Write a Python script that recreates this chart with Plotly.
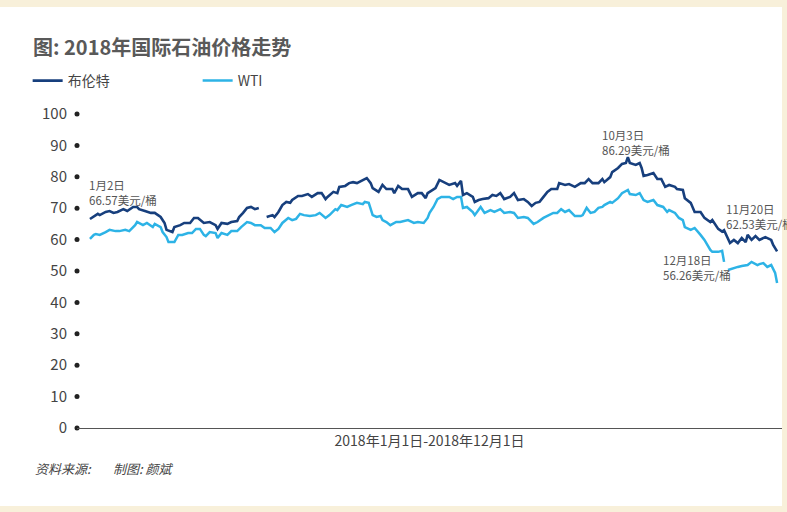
import pandas as pd
import plotly.graph_objects as go

# ---- data (day of year, Jan 1 = 0; value in USD/barrel) ----
brent_days = [1, 5, 6, 9, 11, 13, 15, 18, 20, 23, 25, 26, 29, 32, 34, 37, 39, 40, 43, 44,
              47, 49, 52, 54, 56, 59, 62, 65, 66, 68, 71, 73, 76, 77, 79, 81, 83, 85, 87, 89,
              91, 94, 95, 97, 99, 101, 103, 104, 107, 109, 112, 114, 117, 119, 121, 122, 125, 127, 128, 131,
              133, 135, 137, 140, 142, 144, 145, 148, 150, 152, 155, 156, 158, 160, 163, 165, 168, 170, 172, 173,
              177, 179, 182, 184, 187, 188, 190, 191, 193, 196, 197, 199, 201, 204, 206, 208, 210, 212, 215, 217,
              219, 222, 224, 226, 228, 230, 232, 234, 236, 239, 240, 243, 245, 248, 251, 253, 255, 257, 260, 262,
              263, 266, 267, 270, 272, 274, 275, 276, 279, 281, 282, 283, 285, 288, 290, 292, 294, 296, 299, 300,
              303, 304, 307, 309, 312, 314, 317, 318, 321, 323, 324, 326, 327, 329, 331, 333, 335, 336, 338, 340,
              342, 345, 346, 348, 349, 351]
brent_vals = [66.57, 68.2, 67.8, 68.8, 69.1, 68.5, 68.8, 69.7, 69.1, 70.4, 70.4, 69.7, 69.1, 68.5, 68.5, 67.2, 65.3, 63.1, 62.4, 64.0,
              64.6, 65.3, 65.3, 66.9, 66.9, 65.3, 65.6, 64.6, 63.4, 65.3, 65.0, 65.6, 65.9, 67.2, 68.5, 70.1, 70.4, 69.7, 70.1, None,
              67.2, 67.8, 67.2, 68.8, 71.0, 72.0, 71.7, 72.6, 73.9, 73.9, 74.5, 73.6, 74.8, 74.8, 72.9, 73.6, 75.2, 74.8, 76.8, 77.1,
              78.0, 78.3, 78.0, 79.0, 79.6, 78.0, 76.4, 75.2, 77.4, 76.1, 76.1, 74.8, 77.1, 76.1, 76.1, 73.6, 74.8, 74.8, 73.2, 74.8,
              76.4, 79.0, 78.0, 77.4, 78.0, 77.1, 78.7, 74.2, 74.8, 73.6, 72.0, 72.6, 72.9, 73.2, 74.2, 73.9, 74.8, 72.9, 73.6, 74.8,
              72.6, 72.9, 72.0, 70.7, 71.7, 72.0, 73.6, 75.2, 76.1, 76.1, 78.0, 77.4, 77.7, 76.8, 78.0, 78.0, 79.3, 78.0, 78.0, 79.3,
              78.3, 79.9, 81.5, 82.8, 84.1, 84.4, 86.29, 84.4, 83.8, 84.4, 82.8, 80.3, 80.6, 81.2, 79.3, 79.3, 76.8, 77.4, 76.8, 76.1,
              75.8, 73.2, 71.7, 68.8, 68.8, 66.9, 65.6, 66.2, 63.4, 62.53, 63.0, 59.9, 58.9, 59.9, 58.9, 60.5, 59.2, 61.5, 59.9, 61.1,
              59.9, 60.8, 60.5, 59.9, 58.3, 56.26]

wti_days = [1, 3, 4, 6, 9, 11, 14, 16, 19, 21, 24, 25, 28, 30, 33, 34, 37, 38, 40, 41,
            44, 46, 48, 51, 53, 55, 57, 59, 60, 62, 65, 66, 68, 71, 73, 76, 78, 81, 83, 85,
            88, 90, 93, 95, 97, 99, 102, 104, 106, 108, 110, 113, 116, 118, 121, 123, 126, 127, 129, 132,
            134, 137, 140, 141, 143, 145, 147, 149, 150, 152, 154, 155, 157, 159, 161, 163, 166, 168, 171, 173,
            174, 176, 178, 180, 182, 184, 186, 188, 190, 191, 193, 196, 197, 200, 202, 205, 207, 210, 212, 215,
            217, 219, 222, 224, 227, 229, 232, 234, 237, 239, 241, 243, 245, 248, 251, 252, 254, 256, 258, 260,
            262, 263, 266, 267, 270, 272, 275, 276, 279, 281, 283, 285, 288, 290, 293, 295, 296, 299, 301, 303,
            304, 307, 309, 312, 314, 317, 318, 321, 323, 324, 325, 326, 329, 331, 333, 336, 338, 341, 342, 344,
            346, 348, 350, 351]
wti_vals = [60.2, 61.5, 61.8, 61.5, 62.4, 63.1, 62.7, 62.7, 63.1, 62.7, 64.6, 65.6, 64.6, 65.3, 64.0, 65.0, 64.0, 62.4, 60.8, 59.2,
            59.2, 61.5, 61.5, 62.1, 62.1, 63.4, 63.4, 61.5, 61.1, 62.4, 62.1, 60.5, 62.1, 61.5, 62.7, 62.7, 64.0, 65.6, 65.3, 64.6,
            64.6, 63.7, 63.7, 62.4, 63.4, 65.3, 66.9, 66.2, 66.6, 68.2, 67.8, 67.5, 67.8, 68.5, 66.9, 67.8, 69.7, 69.4, 71.0, 70.4,
            71.0, 71.7, 71.3, 72.0, 71.7, 67.8, 67.2, 67.5, 66.2, 65.6, 64.6, 65.0, 65.6, 65.6, 65.9, 66.2, 65.3, 65.6, 65.3, 66.9,
            68.5, 70.4, 72.9, 73.6, 73.6, 73.6, 72.9, 73.6, 73.6, 70.1, 70.4, 68.8, 67.8, 70.4, 68.5, 69.4, 68.8, 69.7, 68.5, 68.8,
            68.5, 66.9, 67.2, 66.9, 65.0, 65.6, 66.9, 67.5, 68.5, 68.5, 69.7, 68.8, 69.4, 67.5, 67.5, 67.8, 70.1, 68.5, 68.8, 70.1,
            70.4, 71.0, 72.0, 71.7, 73.2, 74.8, 75.8, 74.5, 74.2, 74.8, 72.6, 72.0, 72.6, 71.0, 70.4, 68.8, 69.4, 68.5, 66.9, 66.2,
            64.0, 63.1, 63.7, 61.5, 59.9, 56.7, 56.1, 56.1, 56.4, 52.9, None, 50.3, 51.0, 51.3, 51.6, 51.9, 52.9, 51.9, 52.2, 52.5,
            51.3, 51.9, 49.4, 46.2]

y_ticks = [0, 10, 20, 30, 40, 50, 60, 70, 80, 90, 100]
series_names = ["布伦特", "WTI"]
series_colors = ["#173f7d", "#2db3e6"]

base = pd.Timestamp("2018-01-01")
brent_dates = base + pd.to_timedelta(brent_days, unit="D")
wti_dates = base + pd.to_timedelta(wti_days, unit="D")
x_start = base + pd.Timedelta(days=-5.6)
x_end = base + pd.Timedelta(days=353.5)

fig = go.Figure()
fig.add_trace(go.Scatter(x=brent_dates, y=brent_vals, mode="lines", name=series_names[0],
                         line=dict(color=series_colors[0], width=2.6), connectgaps=False))
fig.add_trace(go.Scatter(x=wti_dates, y=wti_vals, mode="lines", name=series_names[1],
                         line=dict(color=series_colors[1], width=2.5), connectgaps=False))
# tick dots on the y axis
fig.add_trace(go.Scatter(x=[x_start] * len(y_ticks), y=y_ticks, mode="markers",
                         marker=dict(color="#222222", size=5), showlegend=False,
                         hoverinfo="skip", cliponaxis=False))

grey = "#555555"
ann_font = dict(family="Noto Sans CJK SC", size=11.5, color=grey)
annots = [
    ("1月2日<br>66.57美元/桶", 0.0142, 0.750),
    ("10月3日<br>86.29美元/桶", 0.7418, 0.9108),
    ("11月20日<br>62.53美元/桶", 0.9180, 0.6736),
    ("12月18日<br>56.26美元/桶", 0.8284, 0.5127),
]
annotations = []
for txt, ax, ay in annots:
    annotations.append(dict(text=txt, x=ax, y=ay, xref="paper", yref="paper",
                            xanchor="left", yanchor="middle", align="left",
                            showarrow=False, font=ann_font))
annotations.append(dict(text="资料来源:", x=-0.0624, y=-0.1274, xref="paper", yref="paper",
                        xanchor="left", yanchor="middle", showarrow=False,
                        font=dict(family="Noto Sans CJK SC", size=13, color="#444444", style="italic")))
annotations.append(dict(text="制图: 颜斌", x=0.0485, y=-0.1274, xref="paper", yref="paper",
                        xanchor="left", yanchor="middle", showarrow=False,
                        font=dict(family="Noto Sans CJK SC", size=13, color="#444444", style="italic")))

shapes = [dict(type="rect", xref="paper", yref="paper", x0=-0.12, x1=1.0, y0=-0.2484, y1=1.3408,
               fillcolor="white", line=dict(width=0), layer="below")]

fig.update_layout(
    width=787, height=512,
    margin=dict(l=77, r=5, t=114, b=84),
    paper_bgcolor="#f8f0da", plot_bgcolor="rgba(0,0,0,0)",
    font=dict(family="Noto Sans CJK SC", color="#444444"),
    title=dict(text="<b>图: 2018年国际石油价格走势</b>", x=33 / 787, xref="container", xanchor="left",
               y=1 - 48 / 512, yref="container", yanchor="middle",
               font=dict(family="Noto Sans CJK SC", size=20, color="#595959")),
    legend=dict(orientation="h", x=-0.07, y=1.156, xanchor="left", yanchor="top",
                entrywidth=125, entrywidthmode="pixels",
                font=dict(family="Noto Sans CJK SC", size=14, color="#444444"),
                bgcolor="rgba(0,0,0,0)"),
    xaxis=dict(range=[x_start, x_end], showgrid=False, zeroline=False, showticklabels=False,
               ticks="", showline=True, linecolor=grey, linewidth=1,
               title=dict(text="2018年1月1日-2018年12月1日", standoff=8,
                          font=dict(family="Noto Sans CJK SC", size=14, color="#444444"))),
    yaxis=dict(range=[0, 100], tickvals=y_ticks, showgrid=False, zeroline=False, showline=False,
               ticks="", ticklabelstandoff=9,
               tickfont=dict(family="Noto Sans CJK SC", size=15, color="#444444")),
    annotations=annotations,
    shapes=shapes,
    showlegend=True,
)

fig.write_html("out.html")
